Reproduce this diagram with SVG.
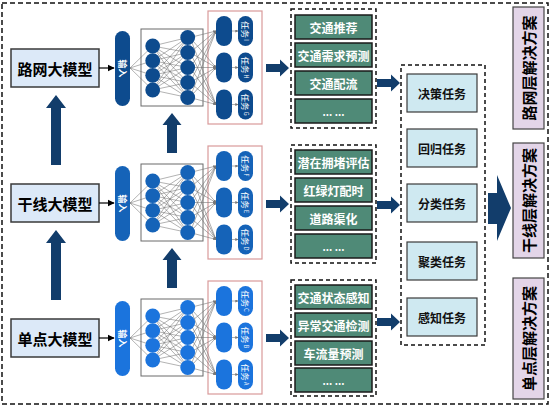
<svg xmlns="http://www.w3.org/2000/svg" width="550" height="407" viewBox="0 0 550 407">
<style>
text{font-family:"Noto Sans CJK SC","Noto Sans",sans-serif;text-anchor:middle;dominant-baseline:central}
.model{fill:#dce9f8;stroke:#3a3a3a;stroke-width:1.5}
.mtext{font-size:15px;font-weight:bold;fill:#000}
.nnbox{fill:#fff;stroke:#6a6a6a;stroke-width:1}
.redbox{fill:#fff;stroke:#d99a9a;stroke-width:1.2}
.gbox{fill:#4f8a77;stroke:#1a1a1a;stroke-width:1.5}
.gtext{font-size:12px;font-weight:bold;fill:#fff}
.dash{fill:none;stroke:#111;stroke-width:1.5;stroke-dasharray:4,3}
.tbox{fill:#cfe9f1;stroke:#3a3a3a;stroke-width:1.2}
.ttext{font-size:12px;font-weight:bold;fill:#111}
.pbox{fill:#e3d5e8;stroke:#444;stroke-width:1.2}
.ptext{font-size:15px;font-weight:bold;fill:#000}
.big{fill:#123d6b}
.pt{font-size:8.5px;fill:#fff}
.pt tspan{font-size:5.5px}
.it{font-size:9px;font-weight:bold;fill:#fff}
.nl{stroke:#666;stroke-width:0.5;fill:none}
.al{stroke:#777;stroke-width:0.6;fill:none;marker-end:url(#ga)}
.c1{fill:#0d4b8e}
.c2{fill:#1563b8}
.c3{fill:#1b74dd}
</style>
<defs>
<marker id="ba" viewBox="0 0 10 10" refX="9" refY="5" markerWidth="6" markerHeight="6" orient="auto"><path d="M0,0L10,5L0,10z" fill="#000"/></marker>
<marker id="ga" viewBox="0 0 10 10" refX="9" refY="5" markerWidth="5" markerHeight="5" orient="auto"><path d="M0,0L10,5L0,10z" fill="#777"/></marker>
<g id="nnlines">
<path class="nl" d="M130,68L152.7,46M130,68L152.7,60.7M130,68L152.7,75.3M130,68L152.7,90"/>
<path class="nl" d="M152.7,46L187.7,37.5M152.7,46L187.7,52.5M152.7,46L187.7,67.5M152.7,46L187.7,82.5M152.7,46L187.7,97.5M152.7,60.7L187.7,37.5M152.7,60.7L187.7,52.5M152.7,60.7L187.7,67.5M152.7,60.7L187.7,82.5M152.7,60.7L187.7,97.5M152.7,75.3L187.7,37.5M152.7,75.3L187.7,52.5M152.7,75.3L187.7,67.5M152.7,75.3L187.7,82.5M152.7,75.3L187.7,97.5M152.7,90L187.7,37.5M152.7,90L187.7,52.5M152.7,90L187.7,67.5M152.7,90L187.7,82.5M152.7,90L187.7,97.5"/>
<line class="al" x1="190" y1="37.5" x2="216" y2="31"/><line class="al" x1="190" y1="37.5" x2="216" y2="67.5"/><line class="al" x1="190" y1="37.5" x2="216" y2="104.5"/>
<line class="al" x1="190" y1="52.5" x2="216" y2="31"/><line class="al" x1="190" y1="52.5" x2="216" y2="67.5"/><line class="al" x1="190" y1="52.5" x2="216" y2="104.5"/>
<line class="al" x1="190" y1="67.5" x2="216" y2="31"/><line class="al" x1="190" y1="67.5" x2="216" y2="67.5"/><line class="al" x1="190" y1="67.5" x2="216" y2="104.5"/>
<line class="al" x1="190" y1="82.5" x2="216" y2="31"/><line class="al" x1="190" y1="82.5" x2="216" y2="67.5"/><line class="al" x1="190" y1="82.5" x2="216" y2="104.5"/>
<line class="al" x1="190" y1="97.5" x2="216" y2="31"/><line class="al" x1="190" y1="97.5" x2="216" y2="67.5"/><line class="al" x1="190" y1="97.5" x2="216" y2="104.5"/>
<line class="al" x1="232" y1="31" x2="238" y2="31"/><line class="al" x1="232" y1="67.5" x2="238" y2="67.5"/><line class="al" x1="232" y1="104.5" x2="238" y2="104.5"/>
</g>
<g id="nncircles">
<circle cx="152.7" cy="46" r="7.4"/><circle cx="152.7" cy="60.7" r="7.4"/><circle cx="152.7" cy="75.3" r="7.4"/><circle cx="152.7" cy="90" r="7.4"/>
<circle cx="187.7" cy="37.5" r="7.4"/><circle cx="187.7" cy="52.5" r="7.4"/><circle cx="187.7" cy="67.5" r="7.4"/><circle cx="187.7" cy="82.5" r="7.4"/><circle cx="187.7" cy="97.5" r="7.4"/>
</g>
<g id="bigpills">
<rect x="216" y="16" width="16" height="30" rx="8"/><rect x="216" y="52.5" width="16" height="30" rx="8"/><rect x="216" y="89.5" width="16" height="30" rx="8"/>
<rect x="238" y="16" width="15" height="30" rx="7.5"/><rect x="238" y="52.5" width="15" height="30" rx="7.5"/><rect x="238" y="89.5" width="15" height="30" rx="7.5"/>
</g>
<path id="harrow" d="M0,-4L14,-4L14,-8.5L23,0L14,8.5L14,4L0,4z"/>
<path id="varrow" d="M-5,70L-5,13L-10,13L0,0L10,13L5,13L5,70z"/>
<path id="varrow2" d="M-5,40L-5,12L-9.5,12L0,0L9.5,12L5,12L5,40z"/>
</defs>

<rect class="dash" x="2" y="3" width="546" height="401" style="stroke-dasharray:5,3"/>

<!-- Models -->
<g id="model-road"><rect class="model" x="11" y="49" width="88" height="38"/><text class="mtext" x="55" y="68">路网大模型</text></g>
<g id="model-arterial"><rect class="model" x="11" y="184" width="88" height="38"/><text class="mtext" x="55" y="203">干线大模型</text></g>
<g id="model-single"><rect class="model" x="11" y="319" width="88" height="38"/><text class="mtext" x="55" y="338">单点大模型</text></g>

<!-- Level networks -->
<g id="net-road">
<rect class="c1" x="115" y="31" width="15" height="75" rx="7.5"/>
<text class="it" transform="translate(122.5,68.5) rotate(90)">输入</text>
<rect class="nnbox" x="141" y="29" width="62" height="77"/>
<rect class="redbox" x="208" y="11" width="54" height="113"/>
<use href="#nnlines"/>
<use href="#nncircles" class="c1"/>
<use href="#bigpills" class="c1"/>
<text class="pt" transform="translate(245.5,31) rotate(90)">任务<tspan> I</tspan></text>
<text class="pt" transform="translate(245.5,67.5) rotate(90)">任务<tspan> H</tspan></text>
<text class="pt" transform="translate(245.5,104.5) rotate(90)">任务<tspan> G</tspan></text>
</g>
<g id="net-arterial" transform="translate(0,135)">
<rect class="c2" x="115" y="31" width="15" height="75" rx="7.5"/>
<text class="it" transform="translate(122.5,68.5) rotate(90)">输入</text>
<rect class="nnbox" x="141" y="29" width="62" height="77"/>
<rect class="redbox" x="208" y="11" width="54" height="113"/>
<use href="#nnlines"/>
<use href="#nncircles" class="c2"/>
<use href="#bigpills" class="c2"/>
<text class="pt" transform="translate(245.5,31) rotate(90)">任务<tspan> F</tspan></text>
<text class="pt" transform="translate(245.5,67.5) rotate(90)">任务<tspan> E</tspan></text>
<text class="pt" transform="translate(245.5,104.5) rotate(90)">任务<tspan> D</tspan></text>
</g>
<g id="net-single" transform="translate(0,270)">
<rect class="c3" x="115" y="31" width="15" height="75" rx="7.5"/>
<text class="it" transform="translate(122.5,68.5) rotate(90)">输入</text>
<rect class="nnbox" x="141" y="29" width="62" height="77"/>
<rect class="redbox" x="208" y="11" width="54" height="113"/>
<use href="#nnlines"/>
<use href="#nncircles" class="c3"/>
<use href="#bigpills" class="c3"/>
<text class="pt" transform="translate(245.5,31) rotate(90)">任务<tspan> C</tspan></text>
<text class="pt" transform="translate(245.5,67.5) rotate(90)">任务<tspan> B</tspan></text>
<text class="pt" transform="translate(245.5,104.5) rotate(90)">任务<tspan> A</tspan></text>
</g>

<!-- Application groups -->
<g id="apps-road">
<rect class="dash" x="291" y="9" width="85" height="119"/>
<rect class="gbox" x="295" y="15" width="77" height="24"/><text class="gtext" x="333.5" y="27">交通推荐</text>
<rect class="gbox" x="295" y="43" width="77" height="24"/><text class="gtext" x="333.5" y="55">交通需求预测</text>
<rect class="gbox" x="295" y="71" width="77" height="24"/><text class="gtext" x="333.5" y="83">交通配流</text>
<rect class="gbox" x="295" y="99" width="77" height="24"/><text class="gtext" x="333.5" y="111" style="font-size:10px">... ...</text>
</g>
<g id="apps-arterial">
<rect class="dash" x="291" y="145" width="85" height="118"/>
<rect class="gbox" x="295" y="150" width="77" height="24"/><text class="gtext" x="333.5" y="162">潜在拥堵评估</text>
<rect class="gbox" x="295" y="178" width="77" height="24"/><text class="gtext" x="333.5" y="190">红绿灯配时</text>
<rect class="gbox" x="295" y="206" width="77" height="24"/><text class="gtext" x="333.5" y="218">道路渠化</text>
<rect class="gbox" x="295" y="234" width="77" height="24"/><text class="gtext" x="333.5" y="246" style="font-size:10px">... ...</text>
</g>
<g id="apps-single">
<rect class="dash" x="291" y="280" width="85" height="116"/>
<rect class="gbox" x="295" y="285" width="77" height="24"/><text class="gtext" x="333.5" y="297">交通状态感知</text>
<rect class="gbox" x="295" y="313" width="77" height="24"/><text class="gtext" x="333.5" y="325">异常交通检测</text>
<rect class="gbox" x="295" y="341" width="77" height="24"/><text class="gtext" x="333.5" y="353">车流量预测</text>
<rect class="gbox" x="295" y="368" width="77" height="24"/><text class="gtext" x="333.5" y="380" style="font-size:10px">... ...</text>
</g>

<!-- Task types -->
<g id="tasks">
<rect class="dash" x="401" y="65" width="84" height="280"/>
<rect class="tbox" x="407" y="74" width="70" height="38"/><text class="ttext" x="442" y="93">决策任务</text>
<rect class="tbox" x="407" y="129" width="70" height="38"/><text class="ttext" x="442" y="148">回归任务</text>
<rect class="tbox" x="407" y="184" width="70" height="38"/><text class="ttext" x="442" y="203">分类任务</text>
<rect class="tbox" x="407" y="242" width="70" height="38"/><text class="ttext" x="442" y="261">聚类任务</text>
<rect class="tbox" x="407" y="298" width="70" height="38"/><text class="ttext" x="442" y="317">感知任务</text>
</g>

<!-- Solutions -->
<g id="sol-road"><rect class="pbox" x="513" y="7" width="31" height="122"/><text class="ptext" transform="translate(528.5,68) rotate(-90)">路网层解决方案</text></g>
<g id="sol-arterial"><rect class="pbox" x="513" y="143" width="31" height="115"/><text class="ptext" transform="translate(528.5,200.5) rotate(-90)">干线层解决方案</text></g>
<g id="sol-single"><rect class="pbox" x="513" y="278" width="31" height="121"/><text class="ptext" transform="translate(528.5,338.5) rotate(-90)">单点层解决方案</text></g>

<!-- Connectors -->
<g id="connectors">
<line x1="99" y1="68" x2="114" y2="68" stroke="#000" stroke-width="1.2" marker-end="url(#ba)"/>
<line x1="99" y1="203" x2="114" y2="203" stroke="#000" stroke-width="1.2" marker-end="url(#ba)"/>
<line x1="99" y1="338" x2="114" y2="338" stroke="#000" stroke-width="1.2" marker-end="url(#ba)"/>
<use href="#varrow" class="big" transform="translate(56,95)"/>
<use href="#varrow" class="big" transform="translate(56,230)"/>
<use href="#varrow2" class="big" transform="translate(172,113)"/>
<use href="#varrow2" class="big" transform="translate(172,248)"/>
<use href="#harrow" class="big" transform="translate(266,68)"/>
<use href="#harrow" class="big" transform="translate(266,204)"/>
<use href="#harrow" class="big" transform="translate(266,338)"/>
<use href="#harrow" class="big" transform="translate(377,83)"/>
<use href="#harrow" class="big" transform="translate(377,205)"/>
<use href="#harrow" class="big" transform="translate(377,322)"/>
<path class="big" d="M488,193L497,193L497,175L511,208L497,241L497,224L488,224z"/>
</g>
</svg>
